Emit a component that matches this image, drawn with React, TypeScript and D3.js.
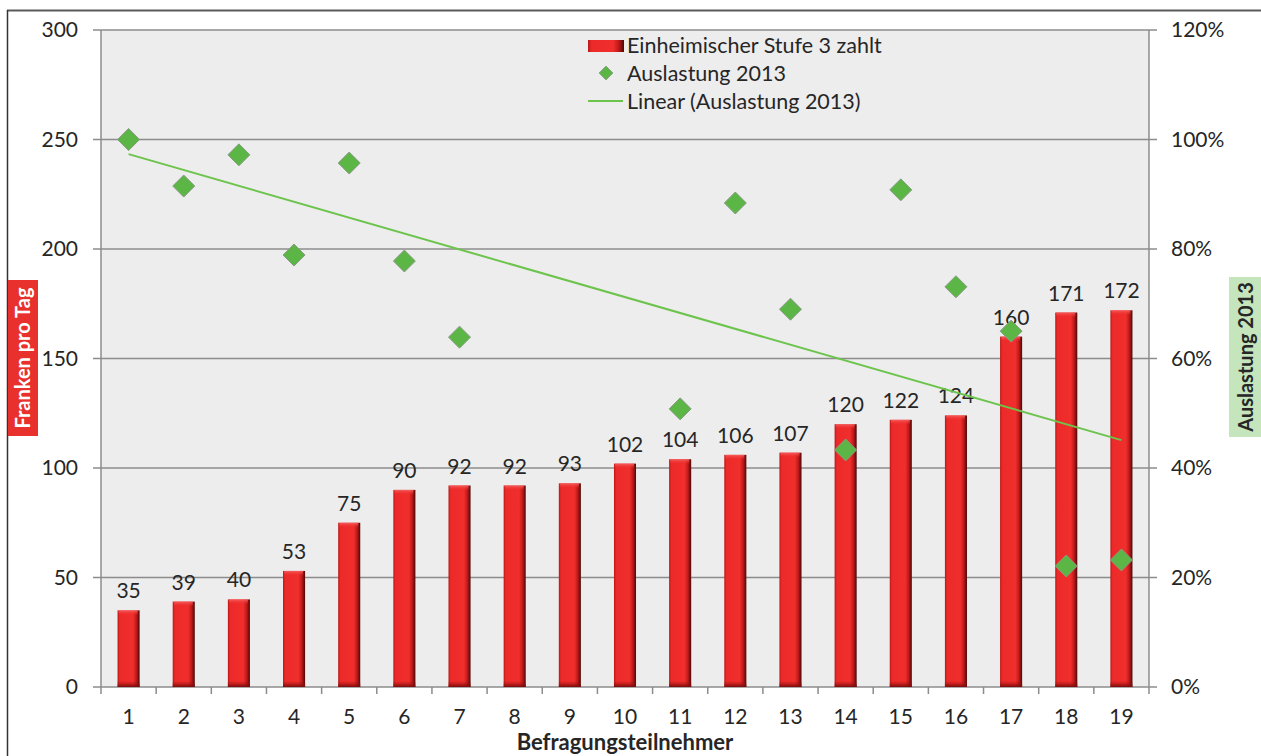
import React from "react";
import * as d3 from "d3";

// Participants 1..19
const categories: string[] = d3.range(1, 20).map(String);
// Daily rate paid by locals at level 3 (CHF)
const tagesFranken: number[] = [35, 39, 40, 53, 75, 90, 92, 92, 93, 102, 104, 106, 107, 120, 122, 124, 160, 171, 172];
// Occupancy 2013 (share); null where no value was given
const auslastung: (number | null)[] = [
  1.0, 0.915, 0.972, 0.789, 0.957, 0.778, 0.639, null, null, null,
  0.508, 0.884, 0.69, 0.433, 0.908, 0.731, 0.65, 0.221, 0.232,
];
const leftTicks: number[] = [0, 50, 100, 150, 200, 250, 300];
const rightTicks: number[] = [0, 0.2, 0.4, 0.6, 0.8, 1.0, 1.2];

const W = 1261;
const H = 756;
const L = 101, R = 1149, T = 30, B = 687;
const FONT = "Lato, 'Open Sans', sans-serif";
const TXT = "#262626";
const AXIS = "#8c8c8c";

export default function App() {
  const xBand = d3.scaleBand<string>().domain(categories).range([L, R]).padding(0);
  const barBand = d3.scaleBand<string>().domain(categories).range([L, R]).paddingInner(0.6).paddingOuter(0.3);
  const yL = d3.scaleLinear().domain([0, 300]).range([B, T]);
  const yR = d3.scaleLinear().domain([0, 1.2]).range([B, T]);
  const cx = (c: string) => (xBand(c) as number) + xBand.bandwidth() / 2;

  // Least-squares trend through the available occupancy points (x = participant index)
  const pts = auslastung
    .map((v, i) => ({ x: i + 1, y: v }))
    .filter((p) => p.y !== null) as { x: number; y: number }[];
  const mx = d3.mean(pts, (p) => p.x) as number;
  const my = d3.mean(pts, (p) => p.y) as number;
  const slope =
    (d3.sum(pts, (p) => (p.x - mx) * (p.y - my)) as number) /
    (d3.sum(pts, (p) => (p.x - mx) ** 2) as number);
  const icpt = my - slope * mx;
  const trend = [1, 19].map((x) => ({ c: String(x), y: icpt + slope * x }));
  const trendLine = d3
    .line<{ c: string; y: number }>()
    .x((d) => cx(d.c))
    .y((d) => yR(d.y));

  const diamond = (x: number, y: number, r: number) =>
    `M${x},${y - r}L${x + r},${y}L${x},${y + r}L${x - r},${y}Z`;

  const step = xBand.step();

  return (
    <svg
      width={W}
      height={H}
      style={{ position: "absolute", left: 0, top: 0, background: "#fff" }}
      fontFamily={FONT}
    >
      <defs>
        <linearGradient id="barGrad" x1="0" x2="1" y1="0" y2="0">
          <stop offset="0%" stopColor="#b81818" />
          <stop offset="10%" stopColor="#ec2a29" />
          <stop offset="70%" stopColor="#f02e2c" />
          <stop offset="85%" stopColor="#c01a1a" />
          <stop offset="100%" stopColor="#4c0808" />
        </linearGradient>
        <linearGradient id="barTop" x1="0" x2="0" y1="0" y2="1">
          <stop offset="0%" stopColor="#f46060" />
          <stop offset="100%" stopColor="#ee2a29" stopOpacity="0" />
        </linearGradient>
        <linearGradient id="barBottom" x1="0" x2="0" y1="0" y2="1">
          <stop offset="0%" stopColor="#a01010" stopOpacity="0" />
          <stop offset="100%" stopColor="#7a0c0c" />
        </linearGradient>
      </defs>

      {/* outer frame */}
      <line x1={7} y1={10.5} x2={W} y2={10.5} stroke="#5a5a5a" strokeWidth={2} />
      <line x1={7.5} y1={10} x2={7.5} y2={H} stroke="#333" strokeWidth={1.5} />

      {/* plot background */}
      <rect x={L} y={T} width={R - L} height={B - T} fill="#ededed" />

      {/* gridlines and tick marks */}
      {leftTicks.map((t) => (
        <g key={"g" + t}>
          <line x1={L - 8} x2={R + 8} y1={yL(t)} y2={yL(t)} stroke={AXIS} strokeWidth={1.3} />
          <text x={78} y={yL(t)} dy="0.35em" textAnchor="end" fontSize={21} fill={TXT}>
            {t}
          </text>
        </g>
      ))}
      {rightTicks.map((t) => (
        <text key={"r" + t} x={1171} y={yR(t)} dy="0.35em" fontSize={21} fill={TXT}>
          {Math.round(t * 100) + "%"}
        </text>
      ))}
      <line x1={L} x2={L} y1={T} y2={B} stroke={AXIS} strokeWidth={1.5} />
      <line x1={R} x2={R} y1={T} y2={B} stroke={AXIS} strokeWidth={1.5} />
      {d3.range(0, categories.length + 1).map((i) => (
        <line key={"xt" + i} x1={L + i * step} x2={L + i * step} y1={B} y2={B + 7} stroke={AXIS} strokeWidth={1.5} />
      ))}

      {/* bars */}
      {categories.map((c, i) => {
        const x = barBand(c) as number;
        const w = barBand.bandwidth();
        const y = yL(tagesFranken[i]);
        const h = B - y;
        return (
          <g key={"b" + c}>
            <rect x={x} y={y} width={w} height={h} fill="url(#barGrad)" />
            <rect x={x + 1} y={y} width={w - 3} height={5} fill="url(#barTop)" />
            <rect x={x} y={B - 6} width={w} height={6} fill="url(#barBottom)" />
            <text x={cx(c)} y={y - 12} textAnchor="middle" fontSize={21} fill={TXT}>
              {tagesFranken[i]}
            </text>
          </g>
        );
      })}

      {/* trend line */}
      <path d={trendLine(trend) as string} fill="none" stroke="#6cc44c" strokeWidth={2} />

      {/* occupancy markers */}
      {categories.map((c, i) =>
        auslastung[i] === null ? null : (
          <path
            key={"d" + c}
            d={diamond(cx(c), yR(auslastung[i] as number), 11)}
            fill="#5cb645"
            stroke="#8a9a86"
            strokeWidth={1}
          />
        )
      )}

      {/* x axis labels */}
      {categories.map((c) => (
        <text key={"xl" + c} x={cx(c)} y={724} textAnchor="middle" fontSize={21} fill={TXT}>
          {c}
        </text>
      ))}
      <text x={(L + R) / 2} y={750} textAnchor="middle" fontSize={22} fontWeight="bold" fill={TXT}>
        Befragungsteilnehmer
      </text>

      {/* axis titles */}
      <rect x={8} y={280} width={30} height={156} fill="#e8302c" />
      <text
        transform={`translate(23,358) rotate(-90)`}
        textAnchor="middle"
        dy="0.35em"
        fontSize={20}
        fontWeight="bold"
        fill="#fff"
      >
        Franken pro Tag
      </text>
      <rect x={1229} y={277} width={32} height={160} fill="#c5e5bd" />
      <text
        transform={`translate(1246,357) rotate(-90)`}
        textAnchor="middle"
        dy="0.35em"
        fontSize={20}
        fontWeight="bold"
        fill={TXT}
      >
        Auslastung 2013
      </text>

      {/* legend */}
      <g fontSize={21.5} fill={TXT}>
        <rect x={588} y={40} width={36} height={12} fill="url(#barGrad)" />
        <text x={627} y={45} dy="0.35em">Einheimischer Stufe 3 zahlt</text>
        <path d={diamond(606, 73, 7)} fill="#5cb645" stroke="#8a9a86" strokeWidth={0.8} />
        <text x={627} y={73} dy="0.35em">Auslastung 2013</text>
        <line x1={588} x2={623} y1={101} y2={101} stroke="#6cc44c" strokeWidth={2} />
        <text x={627} y={101} dy="0.35em">Linear (Auslastung 2013)</text>
      </g>
    </svg>
  );
}
